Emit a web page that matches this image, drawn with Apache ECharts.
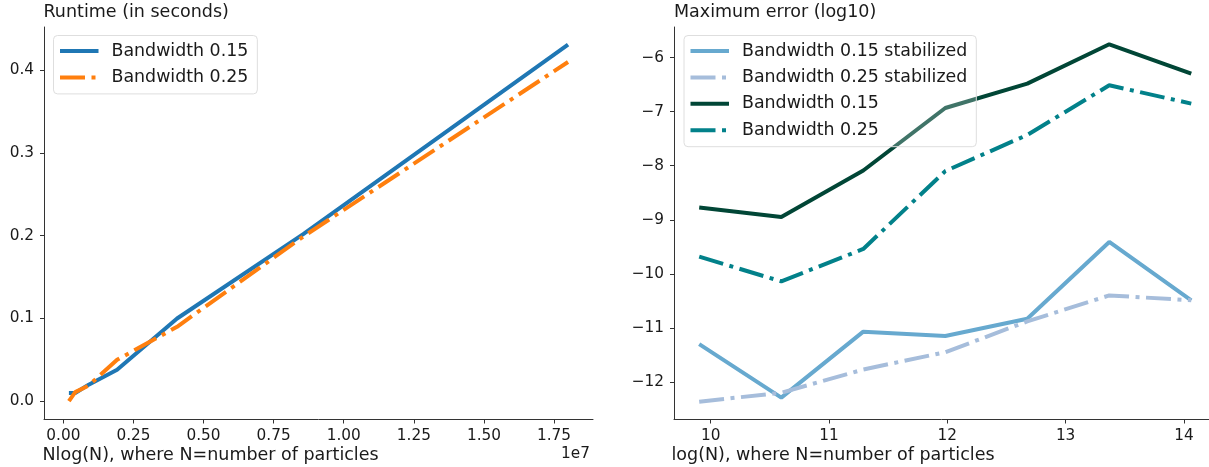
<!DOCTYPE html>
<html>
<head>
<meta charset="utf-8">
<script src="https://cdn.jsdelivr.net/npm/echarts@6/dist/echarts.min.js"></script>
<style>
    html, body { margin: 0; padding: 0; background: #fff; }
    #chart { width: 1209px; height: 467px; }
</style>
</head>
<body>
<div id="chart"></div>
<script>
// 左图: runtime vs N log N
const nlogn = [198070, 423880, 903200, 1917280, 4056320, 8556160, 17999360];
const runtime015 = [0.010, 0.010, 0.020, 0.038, 0.100, 0.202, 0.431];
const runtime025 = [0.000, 0.011, 0.019, 0.050, 0.090, 0.199, 0.410];
const nlognTicks = [0, 2500000, 5000000, 7500000, 10000000, 12500000, 15000000, 17500000];
const runtimeTicks = [0, 0.1, 0.2, 0.3, 0.4];

// 右图: max error (log10) vs log N
const logN = [9.903, 10.597, 11.290, 11.983, 12.676, 13.369, 14.062];
const err015stab = [-11.30, -12.29, -11.07, -11.15, -10.83, -9.41, -10.49];
const err025stab = [-12.365, -12.20, -11.77, -11.45, -10.88, -10.40, -10.49];
const err015 = [-8.775, -8.948, -8.089, -6.933, -6.482, -5.754, -6.296];
const err025 = [-9.683, -10.14, -9.54, -8.10, -7.43, -6.512, -6.851];
const logNTicks = [10, 11, 12, 13, 14];
const errTicks = [-12, -11, -10, -9, -8, -7, -6];

const FONT = 'DejaVu Sans';
const TXT = '#1a1a1a';
const AXIS = '#333';
const dashDot = [25, 6.5, 4, 6.5];

const pairs = (xs, ys) => xs.map((x, i) => [x, ys[i]]);

const axisBase = (ticks, fmt, margin) => ({
    type: 'value',
    splitLine: { show: false },
    axisLine: { show: true, onZero: false, lineStyle: { color: AXIS, width: 1 } },
    axisTick: { show: true, length: 4, customValues: ticks, lineStyle: { color: AXIS, width: 1 } },
    axisLabel: {
        customValues: ticks,
        formatter: fmt,
        margin: margin,
        fontSize: 15.3,
        fontFamily: FONT,
        color: TXT
    }
});

const minus = (v) => String(v).replace('-', '\u2212');

const line = (name, data, color, dash, xi) => ({
    name: name,
    type: 'line',
    xAxisIndex: xi,
    yAxisIndex: xi,
    data: data,
    symbol: 'none',
    silent: true,
    animation: false,
    lineStyle: { color: color, width: 4, type: dash || 'solid' },
    itemStyle: { color: color }
});

// 图例: 只画线, 不画圆点
const legendBase = {
    orient: 'vertical',
    top: 35.5,
    itemWidth: 38.5,
    itemHeight: 17,
    itemGap: 9.4,
    padding: [7, 9, 8, 4.5],
    selectedMode: false,
    backgroundColor: 'rgba(255,255,255,0.25)',
    borderColor: '#dedede',
    borderWidth: 1,
    borderRadius: 4,
    lineStyle: { width: 4 },
    itemStyle: { color: 'rgba(0,0,0,0)', borderWidth: 0, opacity: 0 },
    textStyle: { fontSize: 17.4, lineHeight: 17, fontFamily: FONT, color: TXT, padding: [0, 0, 0, 8] },
    formatter: (n) => n.split('|')[0]
};

const titleText = (text, pos, size) => Object.assign({
    text: text,
    padding: 0,
    textStyle: { fontSize: size || 17.5, fontWeight: 'normal', fontFamily: FONT, color: TXT }
}, pos);

const chart = echarts.init(document.getElementById('chart'), null, { renderer: 'canvas' });
chart.setOption({
    animation: false,
    backgroundColor: '#fff',
    title: [
        titleText('Runtime (in seconds)', { left: 43.5, top: 3.5 }),
        titleText('Maximum error (log10)', { left: 674, top: 3.5 }),
        titleText('Nlog(N), where N=number of particles', { left: 42.5, top: 446.5 }),
        titleText('log(N), where N=number of particles', { left: 671.5, top: 446.5 }),
        titleText('1e7', { right: 619, top: 447 }, 15.3)
    ],
    grid: [
        { left: 44, top: 27, width: 549, height: 392.5 },
        { left: 674, top: 27, width: 535, height: 392.5 }
    ],
    xAxis: [
        Object.assign(axisBase(nlognTicks, (v) => (v / 1e7).toFixed(2), 9),
            { gridIndex: 0, min: -690000, max: 18890000 }),
        Object.assign(axisBase(logNTicks, (v) => String(v), 9),
            { gridIndex: 1, min: 9.69, max: 14.212 })
    ],
    yAxis: [
        Object.assign(axisBase(runtimeTicks, (v) => v.toFixed(1), 10),
            { gridIndex: 0, min: -0.0221, max: 0.4523 }),
        Object.assign(axisBase(errTicks, minus, 10),
            { gridIndex: 1, min: -12.695, max: -5.434 })
    ],
    legend: [
        Object.assign({}, legendBase, {
            left: 53.5,
            data: ['Bandwidth 0.15', 'Bandwidth 0.25']
        }),
        Object.assign({}, legendBase, {
            left: 684,
            data: ['Bandwidth 0.15 stabilized|r', 'Bandwidth 0.25 stabilized|r', 'Bandwidth 0.15|r', 'Bandwidth 0.25|r']
        })
    ],
    series: [
        line('Bandwidth 0.15', pairs(nlogn, runtime015), '#1f77b4', null, 0),
        line('Bandwidth 0.25', pairs(nlogn, runtime025), '#ff7f0e', dashDot, 0),
        line('Bandwidth 0.15 stabilized|r', pairs(logN, err015stab), '#67a9cf', null, 1),
        line('Bandwidth 0.25 stabilized|r', pairs(logN, err025stab), '#a6bddb', dashDot, 1),
        line('Bandwidth 0.15|r', pairs(logN, err015), '#014636', null, 1),
        line('Bandwidth 0.25|r', pairs(logN, err025), '#02818a', dashDot, 1)
    ]
});
</script>
</body>
</html>
